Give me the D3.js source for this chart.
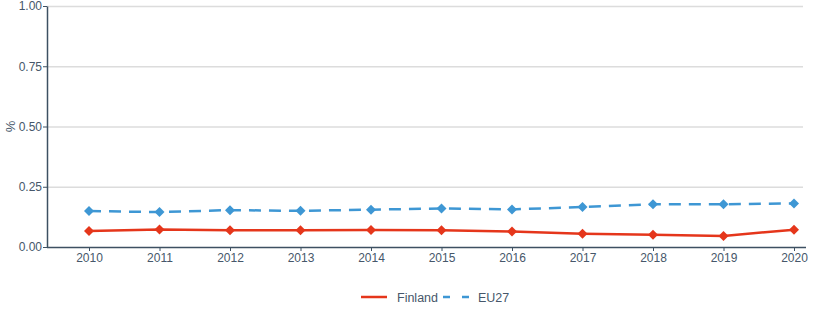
<!DOCTYPE html>
<html><head><meta charset="utf-8">
<script src="https://cdn.jsdelivr.net/npm/d3@7"></script>
<style>
html,body{margin:0;padding:0;background:#fff;}
svg{display:block;font-family:"Liberation Sans",Arial,sans-serif;}
</style></head>
<body><svg id="c" width="814" height="326"></svg>
<script>
const years = [2010,2011,2012,2013,2014,2015,2016,2017,2018,2019,2020];
const finland = [0.066,0.073,0.069,0.069,0.071,0.070,0.064,0.055,0.051,0.046,0.072];
const eu27 = [0.149,0.145,0.153,0.150,0.155,0.160,0.156,0.166,0.177,0.177,0.181];
const yTicks = [0,0.25,0.5,0.75,1];
const seriesNames = ["Finland","EU27"];

const red = "#e5361b", blue = "#3e97d4", axisCol = "#3d5062", textCol = "#46576a";
const svg = d3.select("#c");
const L = 47, R = 806, T = 6, B = 247;
const x = d3.scalePoint().domain(years).range([89,794]);
const y = d3.scaleLinear().domain([0,1]).range([B,T]);

// gridlines
svg.append("g").selectAll("line").data(yTicks.filter(d=>d>0)).join("line")
  .attr("x1",L).attr("x2",803).attr("y1",d=>y(d)+0.5).attr("y2",d=>y(d)+0.5)
  .attr("stroke","#dcdcdc").attr("stroke-width",1.5);

// y axis
const ya = svg.append("g").attr("transform",`translate(${L},0)`)
  .call(d3.axisLeft(y).tickValues(yTicks).tickFormat(d3.format(".2f")).tickSize(4).tickSizeOuter(0));
ya.select(".domain").attr("stroke",axisCol).attr("stroke-width",1.5);
ya.selectAll(".tick line").attr("stroke",axisCol);
ya.selectAll("text").attr("fill",textCol).attr("font-size",12).attr("x",-5).attr("font-family","Liberation Sans, Arial, sans-serif");

// x axis
const xa = svg.append("g").attr("transform",`translate(0,${B})`)
  .call(d3.axisBottom(x).tickSize(4).tickSizeOuter(0));
xa.select(".domain").attr("d",`M${L},0.5H${R}`).attr("stroke",axisCol).attr("stroke-width",1.5);
xa.selectAll(".tick line").attr("stroke",axisCol);
xa.selectAll("text").attr("fill",textCol).attr("font-size",12).attr("y",6).attr("font-family","Liberation Sans, Arial, sans-serif");

// y label
svg.append("text").attr("transform",`translate(15,${(T+B)/2}) rotate(-90)`)
  .attr("text-anchor","middle").attr("fill",textCol).attr("font-size",13).text("%");

const line = d3.line().x((d,i)=>x(years[i])).y(d=>y(d));
const sym = d3.symbol().type(d3.symbolSquare).size(50);

function drawSeries(vals,color,dash){
  svg.append("path").datum(vals).attr("d",line).attr("fill","none")
    .attr("stroke",color).attr("stroke-width",2.5).attr("stroke-dasharray",dash);
  svg.append("g").selectAll("path").data(vals).join("path")
    .attr("d",sym).attr("fill",color)
    .attr("transform",(d,i)=>`translate(${x(years[i])},${y(d)}) rotate(45)`);
}
drawSeries(eu27,blue,"12,8");
drawSeries(finland,red,null);

// legend
const lg = svg.append("g").attr("transform","translate(0,297)");
lg.append("line").attr("x1",361).attr("x2",387).attr("y1",0).attr("y2",0).attr("stroke",red).attr("stroke-width",2.5);
lg.append("text").attr("x",397).attr("y",4.5).attr("fill",textCol).attr("font-size",12.5).text(seriesNames[0]);
lg.append("line").attr("x1",443).attr("x2",469).attr("y1",0).attr("y2",0).attr("stroke",blue).attr("stroke-width",2.5).attr("stroke-dasharray","7,12");
lg.append("text").attr("x",478).attr("y",4.5).attr("fill",textCol).attr("font-size",12.5).text(seriesNames[1]);
</script></body></html>
